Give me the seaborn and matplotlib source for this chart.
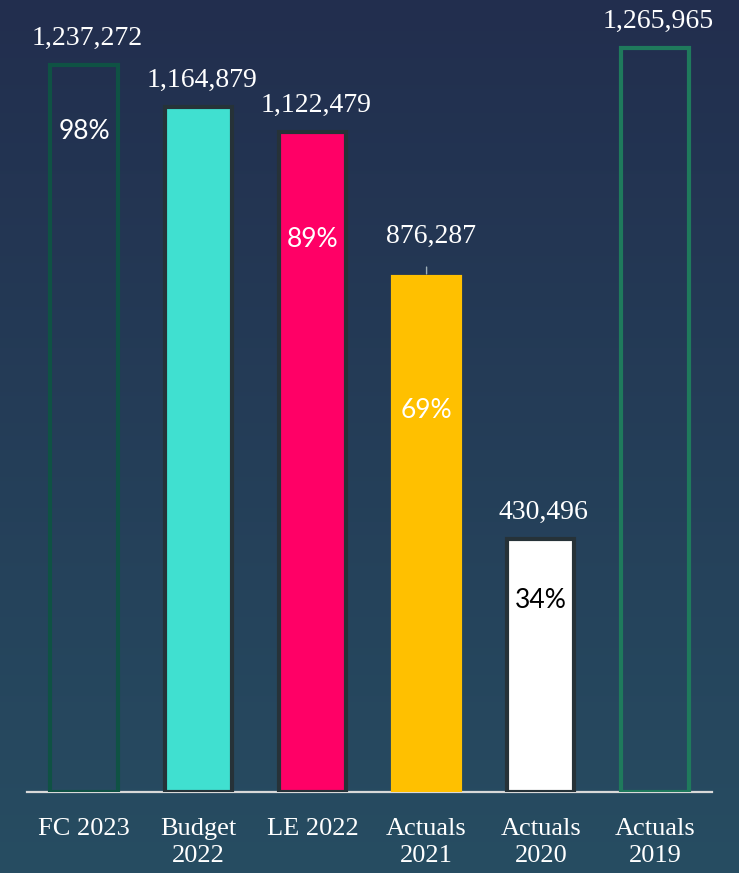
import numpy as np
import pandas as pd
import seaborn as sns
import matplotlib.pyplot as plt

sns.set_theme(style="white")
plt.rcParams['font.family'] = ['Liberation Serif', 'DejaVu Serif']

categories = ['FC 2023', 'Budget\n2022', 'LE 2022', 'Actuals\n2021', 'Actuals\n2020', 'Actuals\n2019']
values = [1237272, 1164879, 1122479, 876287, 430496, 1265965]
pct_labels = ['98%', '', '89%', '69%', '34%', '']
pct_y = [1124000, 0, 940500, 648000, 326500, 0]

fills = ['none', '#40e0d0', '#ff0066', '#ffc000', '#ffffff', 'none']
edges = ['#0f5244', '#263238', '#263238', '#ffc000', '#263238', '#1f7a5c']
pct_colors = ['white', 'white', 'white', 'white', 'black', 'white']

W, H = 739, 873
fig = plt.figure(figsize=(W / 100, H / 100), dpi=100)

# background gradient
bg = fig.add_axes([0, 0, 1, 1])
top = np.array([0x22, 0x2e, 0x4e]) / 255
bot = np.array([0x27, 0x4d, 0x62]) / 255
t = np.linspace(0, 1, 256)[:, None]
grad = top[None, :] * (1 - t) + bot[None, :] * t
bg.imshow(grad[:, None, :], aspect='auto', extent=[0, 1, 0, 1])
bg.axis('off')

ax = fig.add_axes([27 / W, (H - 792) / H, (712 - 27) / W, 792 / H])
ax.set_facecolor('none')

df = pd.DataFrame({'cat': categories, 'val': values})
sns.barplot(data=df, x='cat', y='val', hue='cat', palette=['#888888'] * 6,
            legend=False, width=0.59, ax=ax, zorder=3)

for p, fc, ec in zip(ax.patches, fills, edges):
    p.set_facecolor(fc)
    p.set_edgecolor(ec)
    p.set_linewidth(3)

ax.set_xlim(-0.5, 5.5)
ax.set_ylim(0, 1347000)
ax.set_xlabel('')
ax.set_ylabel('')
ax.set_yticks([])
for s in ['top', 'right', 'left']:
    ax.spines[s].set_visible(False)
ax.spines['bottom'].set_color('#d9d9d9')
ax.spines['bottom'].set_linewidth(1.6)
ax.spines['bottom'].set_zorder(2)

ax.tick_params(axis='x', length=0, pad=19, colors='white', labelsize=19)
for lbl in ax.get_xticklabels():
    lbl.set_linespacing(1.3)

# value labels
for i, v in enumerate(values):
    off = 20 if i == 3 else 10
    ax.annotate(f'{v:,}', (i, v), xytext=(3 if i in (1, 2, 3) else 2, off),
                textcoords='offset points', ha='center', va='bottom',
                color='white', fontsize=20)

# leader line for 876,287
ax.annotate('', (3, values[3]), xytext=(0, 9), textcoords='offset points',
            arrowprops=dict(arrowstyle='-', color='#a0b0b8', lw=1))

# percentage labels
for i, (s, y) in enumerate(zip(pct_labels, pct_y)):
    if s:
        ax.text(i, y, s, ha='center', va='center', color=pct_colors[i],
                fontsize=19, family=['Lato', 'DejaVu Sans'], zorder=5)

fig.savefig('out.png', dpi=100)
